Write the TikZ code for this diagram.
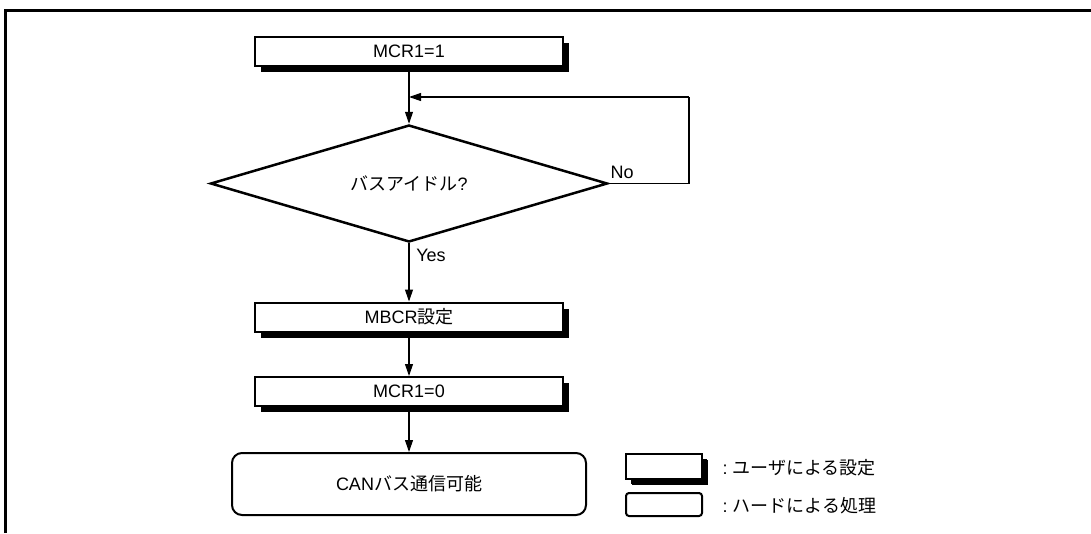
\documentclass[tikz,border=0pt]{standalone}
\usepackage{fontspec}
\setmainfont{Liberation Sans}
\newfontfamily\jp{Noto Sans CJK JP}
\usetikzlibrary{shapes.geometric,shadows,arrows.meta}
\begin{document}
\begin{tikzpicture}[x=1pt,y=-1pt,
  font=\fontsize{18}{22}\selectfont,
  userbox/.style={draw,line width=2pt,fill=white,minimum width=308pt,minimum height=29pt,inner sep=0pt,
    drop shadow={shadow xshift=6pt,shadow yshift=-6pt,fill=black,opacity=1}},
  hwbox/.style={draw,line width=2pt,fill=white,inner sep=0pt},
  arr/.style={line width=1.1pt,-{Triangle[length=12pt,width=8pt]}},
  conn/.style={line width=1.1pt}]
\useasboundingbox (0,0) rectangle (1091,533);
\draw[line width=3pt] (5,533) -- (5,10) -- (1091,10);
\node[userbox] (m1) at (409,51.5) {MCR1=1};
\node[diamond,draw,line width=2.5pt,minimum width=397pt,minimum height=117pt,inner sep=0pt,aspect=3.4] (d) at (409,183.5) {{\jp バスアイドル}?};
\node[userbox] (mb) at (409,317) {MBCR{\jp 設定}};
\node[userbox] (m0) at (409,391.5) {MCR1=0};
\node[hwbox,rounded corners=10pt,minimum width=354pt,minimum height=62pt] (can) at (409,484) {CAN{\jp バス通信可能}};
\node (no) at (622,172) {No};
\node (yes) at (431,255) {Yes};
\coordinate (lc) at (689,97);
\coordinate (loopin) at (409,97);
\draw[arr] (m1.south) -- (d.north);
\draw[conn] (d.east) -| (lc);
\draw[arr] (lc) -- (loopin);
\draw[arr] (d.south) -- (mb.north);
\draw[arr] (mb.south) -- (m0.north);
\draw[arr] (m0.south) -- (can.north);
\node[userbox,minimum width=76pt,minimum height=25pt,drop shadow={shadow xshift=5pt,shadow yshift=-5pt,fill=black,opacity=1}] (lg1) at (664,466.5) {};
\node[hwbox,rounded corners=3pt,minimum width=76pt,minimum height=23pt] (lg2) at (664,504.5) {};
\node[anchor=west] (t1) at (719,468) {:\hspace{5pt}{\jp ユーザによる設定}};
\node[anchor=west] (t2) at (719,506) {:\hspace{5pt}{\jp ハードによる処理}};
\end{tikzpicture}
\end{document}
